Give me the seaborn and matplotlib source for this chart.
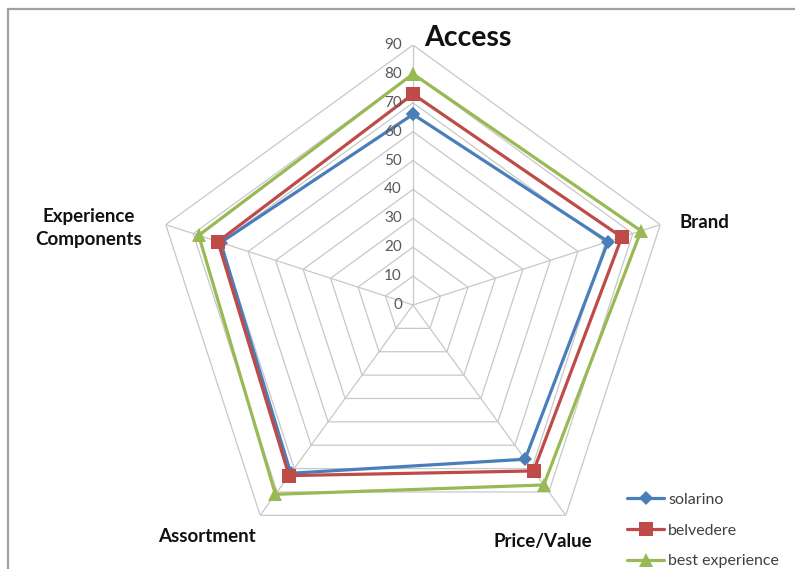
import numpy as np
import pandas as pd
import matplotlib
matplotlib.use("Agg")
import matplotlib.pyplot as plt
from matplotlib.patches import Rectangle
import seaborn as sns

# chart data
categories = ["Access", "Brand", "Price/Value", "Assortment", "Experience\nComponents"]
solarino = [66, 71, 66, 72, 70]
belvedere = [73, 76, 71, 73, 71]
best_experience = [80, 83, 77, 81, 78]
series_names = ["solarino", "belvedere", "best experience"]
tick_values = list(range(0, 91, 10))

colors = {"solarino": "#4a7ebb", "belvedere": "#be4b48", "best experience": "#98b954"}
markers = {"solarino": "D", "belvedere": "s", "best experience": "^"}

sns.set_style("white")
plt.rcParams["font.family"] = ["Lato", "DejaVu Sans"]

# long table, closing each polygon back to the first category
angles = np.linspace(0, 2 * np.pi, len(categories), endpoint=False)
rows = []
for name, vals in zip(series_names, [solarino, belvedere, best_experience]):
    for a, v in zip(list(angles) + [2 * np.pi], vals + vals[:1]):
        rows.append({"series": name, "angle": a, "value": v})
df = pd.DataFrame(rows)

fig = plt.figure(figsize=(7.95, 5.69), dpi=100)
ax = fig.add_axes([153 / 795, 4 / 569, 520 / 795, 520 / 569], projection="polar")
ax.set_theta_offset(np.pi / 2)
ax.set_theta_direction(-1)
ax.set_ylim(0, 90)
ax.grid(False)
ax.spines["polar"].set_visible(False)
ax.set_xticks([])
ax.set_yticks([])

# pentagon grid and spokes
grid_c = "#c8c8c8"
closed = list(angles) + [angles[0]]
for t in tick_values[1:]:
    ax.plot(closed, [t] * len(closed), color=grid_c, lw=0.9, zorder=1)
for a in angles:
    ax.plot([a, a], [0, 90], color=grid_c, lw=0.9, zorder=1)

sns.lineplot(data=df, x="angle", y="value", hue="series", style="series",
             hue_order=series_names, style_order=series_names,
             palette=colors, markers=markers, dashes=False, sort=False,
             linewidth=2.3, markersize=9, markeredgewidth=0, ax=ax, zorder=3)

for line in ax.get_lines():
    if line.get_marker() == "s":
        line.set_markersize(10)
    elif line.get_marker() == "D":
        line.set_markersize(7.5)
    elif line.get_marker() == "^":
        line.set_markersize(10)

# radial tick labels along the Access spoke
for t in tick_values:
    ax.annotate(str(t), xy=(0, t), xytext=(-8, 0), textcoords="offset points",
                ha="right", va="center", fontsize=11, color="#595959")

# category labels
fig.text(468 / 795, 1 - 38 / 569, categories[0], fontsize=20.5, fontweight="bold",
         ha="center", va="center", color="#111111")
fig.text(704 / 795, 1 - 222 / 569, categories[1], fontsize=13.5, fontweight="bold",
         ha="center", va="center", color="#111111")
fig.text(543 / 795, 1 - 542 / 569, categories[2], fontsize=13.5, fontweight="bold",
         ha="center", va="center", color="#111111")
fig.text(207 / 795, 1 - 537 / 569, categories[3], fontsize=13.5, fontweight="bold",
         ha="center", va="center", color="#111111")
fig.text(89 / 795, 1 - 228 / 569, categories[4], fontsize=13.5, fontweight="bold",
         ha="center", va="center", color="#111111", linespacing=1.45)

# legend
handles, labels = ax.get_legend_handles_labels()
leg = ax.legend(handles, labels, loc="upper left", bbox_to_anchor=(621 / 795, 1 - 486 / 569),
                bbox_transform=fig.transFigure, frameon=False, fontsize=11.5,
                handlelength=2.3, handletextpad=0.25, labelspacing=1.05, borderaxespad=0)
for txt in leg.get_texts():
    txt.set_color("#404040")

# chart frame
fig.patches.append(Rectangle((8 / 795, -0.1), 1.1, 1 - 9 / 569 + 0.1, transform=fig.transFigure,
                             fill=False, edgecolor="#a0a0a0", lw=1.6, zorder=0))

fig.savefig("out.png", dpi=100)
